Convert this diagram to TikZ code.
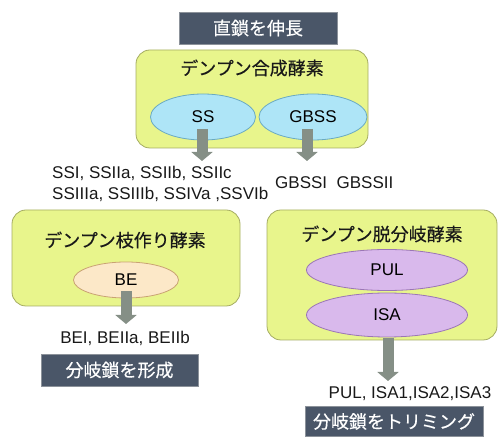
\documentclass[tikz,border=0pt]{standalone}
\usepackage{fontspec}
\setmainfont{Liberation Sans}
\newfontfamily\jp{Noto Sans CJK JP}[BoldFont={Noto Sans CJK JP}, BoldFeatures={FakeBold=0.4}]
\usetikzlibrary{shapes.geometric,arrows.meta}
\definecolor{darkbox}{HTML}{4A5668}
\definecolor{darkborder}{HTML}{8C929A}
\definecolor{lime}{HTML}{E8F58C}
\definecolor{limeborder}{HTML}{A5AC62}
\definecolor{cyanfill}{HTML}{AEE5F7}
\definecolor{cyanborder}{HTML}{6AAAC2}
\definecolor{peach}{HTML}{FCE8C8}
\definecolor{peachborder}{HTML}{C9A273}
\definecolor{lav}{HTML}{D9B9EC}
\definecolor{lavborder}{HTML}{9B76B6}
\definecolor{arrowgray}{HTML}{858F86}
\tikzset{
  lbl/.style={draw=darkborder, line width=0.8pt, fill=darkbox, text=white, font=\jp\bfseries\fontsize{18}{20}\selectfont, inner sep=0pt},
  grp/.style={draw=limeborder, line width=0.8pt, fill=lime, rounded corners=14pt},
  grptitle/.style={font=\jp\bfseries\fontsize{18}{20}\selectfont, inner sep=0pt, text=black!90},
  enz/.style={ellipse, line width=0.8pt, inner sep=0pt, font=\fontsize{17}{20}\selectfont},
  txt/.style={font=\fontsize{17}{20}\selectfont, inner sep=0pt, text=black!90},
  blockarrow/.style={draw=arrowgray, line width=11pt, -{Triangle[width=21pt,length=9pt]}},
}
\begin{document}
\begin{tikzpicture}[x=1pt,y=-1pt]
\useasboundingbox (0,0) rectangle (499,438);
% top
\node[lbl, minimum width=158pt, minimum height=32pt] (top) at (258,28) {直鎖を伸長};
\node[grp, minimum width=232pt, minimum height=98pt] (synth) at (252,99) {};
\node[grptitle] (synthT) at (252,68) {デンプン合成酵素};
\node[enz, fill=cyanfill, draw=cyanborder, minimum width=105pt, minimum height=46pt] (ss) at (203,117) {SS};
\node[enz, fill=cyanfill, draw=cyanborder, minimum width=108pt, minimum height=46pt] (gbss) at (313,117) {GBSS};
\coordinate (ssS) at (202,129);
\coordinate (ssE) at (202,161);
\coordinate (gbS) at (307,129);
\coordinate (gbE) at (307,161);
\draw[blockarrow] (ssS) -- (ssE);
\draw[blockarrow] (gbS) -- (gbE);
\node[txt, anchor=west] (ssl1) at (52,173) {SSI, SSIIa, SSIIb, SSIIc};
\node[txt, anchor=west] (ssl2) at (52,194) {SSIIIa, SSIIIb, SSIVa ,SSVIb};
\node[txt, anchor=west] (gbl) at (275,183) {GBSSI\ \ GBSSII};
% left
\node[grp, minimum width=228pt, minimum height=96pt] (branch) at (126,258) {};
\node[grptitle] (branchT) at (125,240) {デンプン枝作り酵素};
\node[enz, fill=peach, draw=peachborder, minimum width=105pt, minimum height=36pt] (be) at (126,280) {BE};
\coordinate (beS) at (126,291);
\coordinate (beE) at (126,324);
\draw[blockarrow] (beS) -- (beE);
\node[txt] (bel) at (125,338) {BEI, BEIIa, BEIIb};
\node[lbl, minimum width=157pt, minimum height=32pt] (form) at (119.5,370) {分岐鎖を形成};
% right
\node[grp, minimum width=230pt, minimum height=130pt] (debr) at (382,275) {};
\node[grptitle] (debrT) at (382,234) {デンプン脱分岐酵素};
\node[enz, fill=lav, draw=lavborder, minimum width=161pt, minimum height=41pt] (pul) at (387,270) {PUL};
\node[enz, fill=lav, draw=lavborder, minimum width=161pt, minimum height=44pt] (isa) at (387,315) {ISA};
\coordinate (isaS) at (388,338);
\coordinate (isaE) at (388,381);
\draw[blockarrow] (isaS) -- (isaE);
\node[txt] (isal) at (410,394) {PUL, ISA1,ISA2,ISA3};
\node[lbl, minimum width=178pt, minimum height=30pt] (trim) at (394,421.5) {分岐鎖をトリミング};
\end{tikzpicture}
\end{document}
